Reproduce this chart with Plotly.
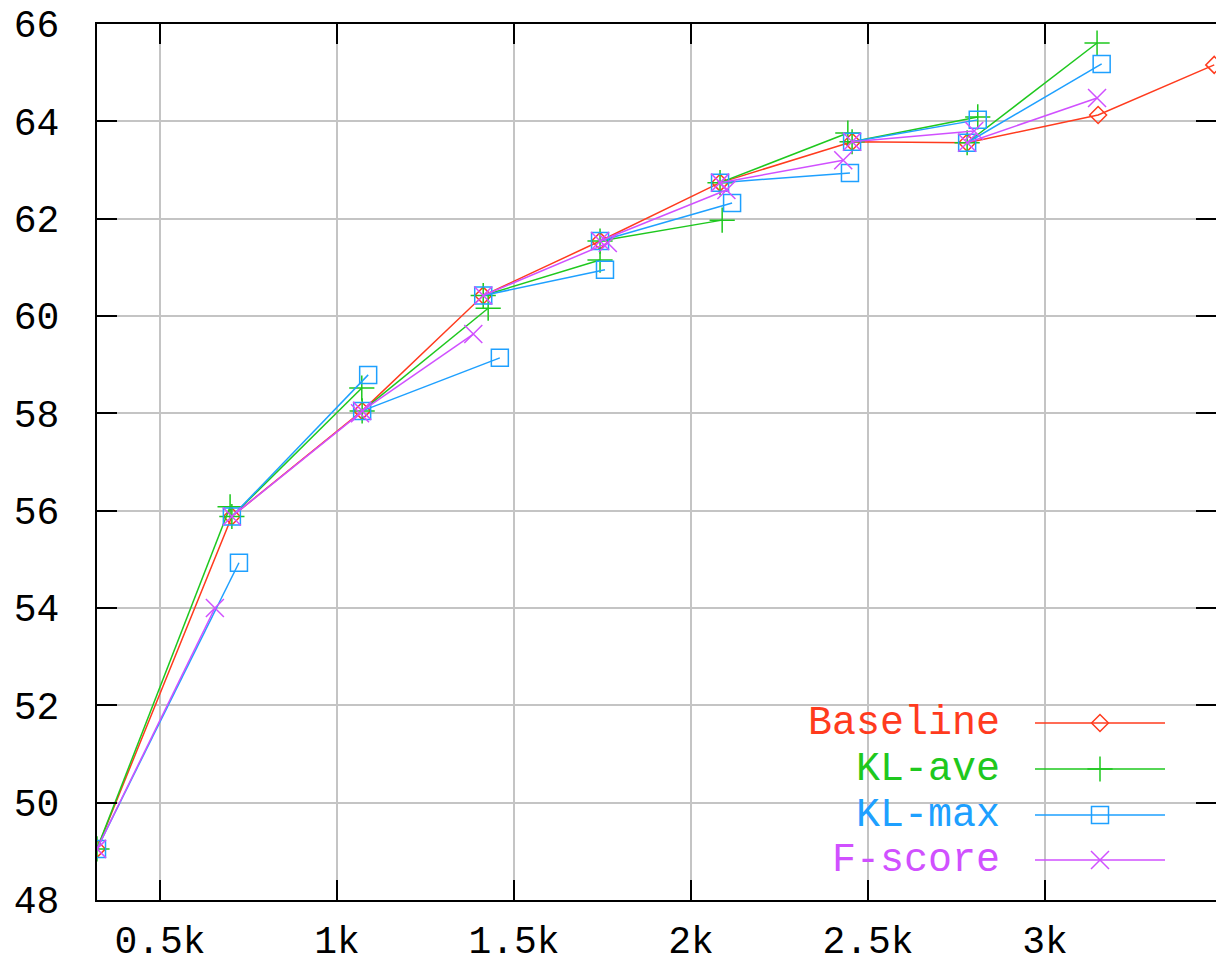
import plotly.graph_objects as go

# ---- data (x in thousands) ----
series_names = ["Baseline", "KL-ave", "KL-max", "F-score"]

base_x = [0.322, 0.703, 1.071, 1.413, 1.743, 2.082, 2.455, 2.780, 3.150, 3.478]
base_y = [49.05, 55.88, 58.05, 60.42, 61.54, 62.74, 63.58, 63.56, 64.13, 65.16]

klave_x = [0.698, 1.070, 1.427, 1.743, 2.088, 2.443, 2.810, 3.147]
klave_y = [56.08, 58.52, 60.16, 61.15, 61.97, 63.76, 64.09, 65.61]

klmax_x = [0.723, 1.088, 1.460, 1.757, 2.116, 2.449, 2.810, 3.160]
klmax_y = [54.93, 58.79, 59.14, 60.95, 62.32, 62.94, 64.03, 65.18]

fscore_x = [0.655, 1.065, 1.385, 1.765, 2.100, 2.430, 2.800, 3.147]
fscore_y = [54.00, 58.00, 59.63, 61.50, 62.59, 63.20, 63.80, 64.48]

x_tickvals = [0.5, 1.0, 1.5, 2.0, 2.5, 3.0]
x_ticktext = ["0.5k", "1k", "1.5k", "2k", "2.5k", "3k"]
y_tickvals = [48, 50, 52, 54, 56, 58, 60, 62, 64, 66]

colors = ["#ff3b1e", "#1ec81e", "#1ea0ff", "#d050ff"]
symbols = ["diamond-open", "cross-thin-open", "square-open", "x-thin-open"]
msizes = [13, 18, 17, 18]

FONT = "Liberation Mono"
FSIZE = 38


def segments(bx, by, ox, oy):
    xs, ys = [], []
    for i in range(len(ox)):
        xs += [bx[i], ox[i], None]
        ys += [by[i], oy[i], None]
    return xs, ys


fig = go.Figure()

traces = [(0, base_x, base_y)]
for idx, (ox, oy) in zip([1, 2, 3], [(klave_x, klave_y), (klmax_x, klmax_y), (fscore_x, fscore_y)]):
    xs, ys = segments(base_x, base_y, ox, oy)
    traces.append((idx, xs, ys))

for idx, xs, ys in traces:
    fig.add_trace(go.Scatter(
        x=xs, y=ys, mode="lines+markers", connectgaps=False,
        name=series_names[idx], showlegend=False,
        line=dict(color=colors[idx], width=1.5),
        marker=dict(symbol=symbols[idx], size=msizes[idx], color=colors[idx],
                    line=dict(color=colors[idx], width=1.5)),
        cliponaxis=True,
    ))

# ---- manual legend (text left, sample right), on an overlay axis in paper-like units ----
L, T, W, H = 97, 24, 1119, 876
def px_to_paper(px, py):
    return (px - L) / W, (T + H - py) / H

legend_rows = [723, 769, 815, 860]
for idx, py in enumerate(legend_rows):
    x0, yy = px_to_paper(1035, py)
    x1, _ = px_to_paper(1165, py)
    xm, _ = px_to_paper(1100, py)
    fig.add_trace(go.Scatter(
        x=[x0, x1], y=[yy, yy], mode="lines", xaxis="x2", yaxis="y2",
        line=dict(color=colors[idx], width=1.5), showlegend=False, hoverinfo="skip"))
    fig.add_trace(go.Scatter(
        x=[xm], y=[yy], mode="markers", xaxis="x2", yaxis="y2",
        marker=dict(symbol=symbols[idx], size=msizes[idx], color=colors[idx],
                    line=dict(color=colors[idx], width=1.5)),
        showlegend=False, hoverinfo="skip"))
    tx, _ = px_to_paper(1002, py)
    fig.add_annotation(x=tx, y=yy, xref="paper", yref="paper", text=series_names[idx],
                       showarrow=False, xanchor="right", yanchor="middle",
                       font=dict(family=FONT, size=40, color=colors[idx]))

axis_common = dict(
    showline=True, linecolor="black", linewidth=2,
    ticks="inside", ticklen=20, tickwidth=2, tickcolor="black",
    showgrid=True, gridcolor="#c4c4c4", gridwidth=1.5, zeroline=False,
    tickfont=dict(family=FONT, size=FSIZE, color="black"),
    automargin=False,
)

fig.update_layout(
    width=1216, height=966,
    margin=dict(l=97, r=0, t=24, b=66),
    paper_bgcolor="white", plot_bgcolor="white",
    xaxis=dict(range=[0.322, 3.483], tickvals=x_tickvals, ticktext=x_ticktext,
               mirror="ticks", ticklabelstandoff=5, **axis_common),
    yaxis=dict(range=[48, 66], tickvals=y_tickvals, mirror="ticks",
               ticklabelstandoff=28, **axis_common),
    xaxis2=dict(range=[0, 1], overlaying="x", visible=False),
    yaxis2=dict(range=[0, 1], overlaying="y", visible=False),
    showlegend=False,
)

fig.write_html("out.html")
